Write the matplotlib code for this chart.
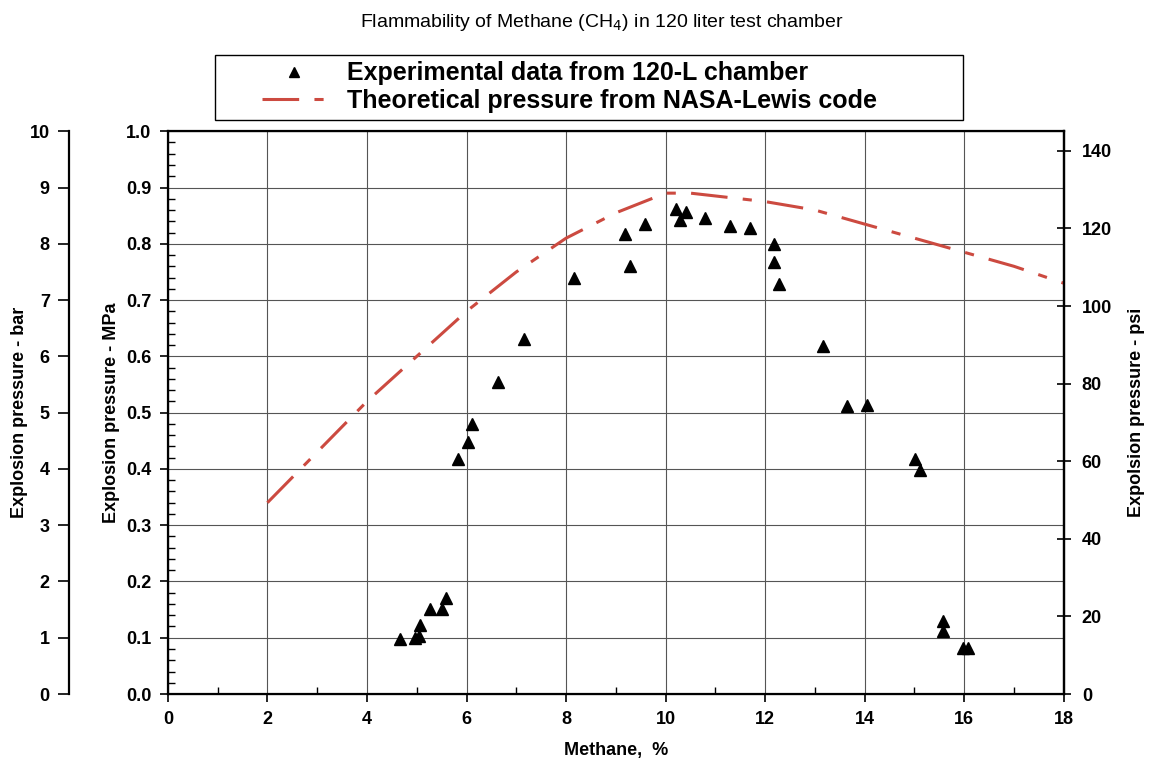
import matplotlib.pyplot as plt
from matplotlib.ticker import MultipleLocator
from matplotlib.patches import Rectangle

plt.rcParams['font.family'] = ['Liberation Sans', 'DejaVu Sans']

# experimental data from the 120-L chamber (methane %, MPa)
exp_x = [4.67, 4.97, 5.05, 5.07, 5.27, 5.50, 5.58,
         5.82, 6.02, 6.12, 6.64, 7.15, 8.16,
         9.18, 9.28, 9.58, 10.21, 10.29, 10.41, 10.79, 11.29, 11.70,
         12.18, 12.18, 12.28, 13.17, 13.65, 14.05, 15.02, 15.12,
         15.58, 15.58, 15.98, 16.08]
exp_y = [0.098, 0.100, 0.103, 0.122, 0.151, 0.151, 0.171,
         0.417, 0.448, 0.479, 0.554, 0.631, 0.739,
         0.817, 0.760, 0.835, 0.861, 0.842, 0.856, 0.846, 0.831, 0.828,
         0.799, 0.767, 0.728, 0.618, 0.512, 0.513, 0.417, 0.398,
         0.130, 0.112, 0.082, 0.082]

# theoretical pressure, NASA-Lewis code
theo_x = [2, 3, 4, 5, 6, 7, 8, 9, 10, 10.5, 11, 12, 13, 14, 15, 16, 17, 18]
theo_y = [0.34, 0.43, 0.52, 0.60, 0.68, 0.75, 0.81, 0.855, 0.89, 0.89,
          0.885, 0.875, 0.86, 0.835, 0.81, 0.785, 0.76, 0.73]

red = '#cc4a40'

fig = plt.figure(figsize=(11.5, 7.72), dpi=100)
ax = fig.add_axes([0.146, 0.101, 0.779, 0.729])

ax.plot(theo_x, theo_y, color=red, lw=2.2, linestyle=(0, (12, 5, 3, 5)),
        label='Theoretical pressure from NASA-Lewis code', zorder=3)
ax.plot(exp_x, exp_y, '^', color='black', ms=9, linestyle='none',
        label='Experimental data from 120-L chamber', zorder=4)

ax.set_xlim(0, 18)
ax.set_ylim(0, 1.0)
ax.xaxis.set_major_locator(MultipleLocator(2))
ax.xaxis.set_minor_locator(MultipleLocator(1))
ax.yaxis.set_major_locator(MultipleLocator(0.1))
ax.yaxis.set_minor_locator(MultipleLocator(0.02))
ax.grid(True, which='major', color='#555555', lw=0.8)
ax.tick_params(which='major', direction='out', length=6, width=1.2,
               labelsize=13, pad=6)
ax.tick_params(which='minor', direction='in', length=5, width=1)
ax.set_yticks([i / 10 for i in range(11)])
ax.set_yticklabels([f'{i / 10:.1f}' for i in range(11)], fontweight='bold')
ax.set_xticks(range(0, 19, 2))
ax.set_xticklabels([str(v) for v in range(0, 19, 2)], fontweight='bold')
for s in ax.spines.values():
    s.set_linewidth(1.6)
ax.set_xlabel('Methane,  %', fontsize=13, fontweight='bold', labelpad=10)
ax.set_ylabel('Explosion pressure - MPa', fontsize=13, fontweight='bold')
ax.yaxis.set_label_coords(-0.054, 0.5)

# psi axis on the right
ax_psi = ax.twinx()
ax_psi.set_ylim(0, 1.0 * 145.04)
ax_psi.set_yticks(range(0, 141, 20))
ax_psi.set_yticklabels([str(v) for v in range(0, 141, 20)], fontweight='bold')
ax_psi.tick_params(direction='inout', length=10, width=1.2, labelsize=13,
                   pad=8)
ax_psi.spines['right'].set_linewidth(1.6)
ax_psi.set_ylabel('Expolsion pressure - psi', fontsize=13, fontweight='bold')
ax_psi.yaxis.set_label_coords(1.072, 0.5)

# bar axis on the far left
ax_bar = ax.twinx()
ax_bar.set_ylim(0, 10)
ax_bar.yaxis.set_ticks_position('left')
ax_bar.yaxis.set_label_position('left')
ax_bar.spines['left'].set_position(('outward', 71))
ax_bar.spines['left'].set_visible(True)
ax_bar.spines['left'].set_linewidth(1.6)
for k in ['right', 'top', 'bottom']:
    ax_bar.spines[k].set_visible(False)
ax_bar.set_yticks(range(0, 11))
ax_bar.set_yticklabels([str(v) for v in range(0, 11)], fontweight='bold')
ax_bar.tick_params(direction='out', length=8, width=1.2, labelsize=13, pad=6)
ax_bar.set_ylabel('Explosion pressure - bar', fontsize=13, fontweight='bold')
ax_bar.yaxis.set_label_coords(-0.156, 0.5)

# legend above the plot, with its own wide frame
h, l = ax.get_legend_handles_labels()
fig.legend(h[::-1], l[::-1], loc='center', bbox_to_anchor=(0.495, 0.887),
           frameon=False, handlelength=2.6, labelspacing=0.15,
           markerscale=0.8, prop={'weight': 'bold', 'size': 18})
fig.patches.append(Rectangle((0.187, 0.845), 0.650, 0.084,
                             transform=fig.transFigure, fill=False,
                             edgecolor='black', lw=1.0))

fig.suptitle('Flammability of Methane (CH$_4$) in 120 liter test chamber',
             x=0.523, y=0.985, fontsize=14)

plt.savefig('out.png', dpi=100)
